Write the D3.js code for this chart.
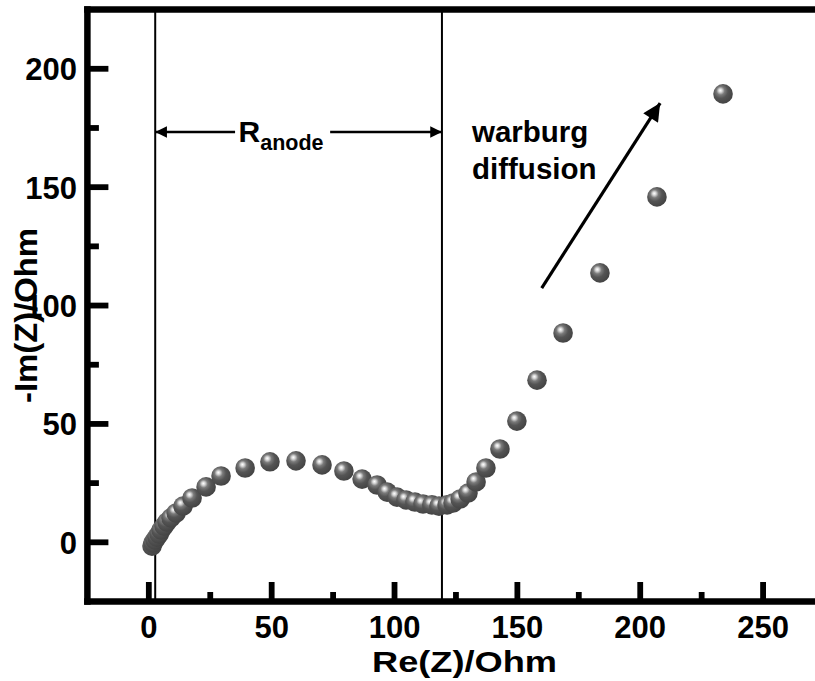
<!DOCTYPE html>
<html>
<head>
<meta charset="utf-8">
<script src="https://cdn.jsdelivr.net/npm/d3@7"></script>
<style>
  html, body { margin: 0; padding: 0; background: #fff; }
  svg { display: block; }
  text { font-family: "Liberation Sans", Arial, sans-serif; font-weight: bold; fill: #000; }
</style>
</head>
<body>
<svg id="chart" width="815" height="681"></svg>
<script>
// ---- data ----
const reZ = [1.3, 1.7, 2.5, 3.3, 4.2, 5.0, 6.2, 7.4, 9.0, 11.1, 13.9, 17.6, 23.3, 29.4,
  39.2, 49.3, 59.9, 70.5, 79.4, 86.8, 92.9, 97.0, 101.0, 104.7, 108.3, 111.6, 115.2, 118.1,
  121.4, 123.8, 126.7, 129.9, 133.2, 137.2, 142.9, 149.8, 158.0, 168.6, 183.6, 206.8, 233.7];
const imZ = [-1.6, -0.3, 1.0, 2.2, 3.5, 5.2, 6.9, 8.6, 10.3, 12.4, 15.3, 18.7, 23.4, 28.0,
  31.4, 34.0, 34.4, 32.7, 30.1, 26.7, 24.2, 21.2, 19.1, 17.9, 17.0, 16.2, 15.8, 15.3,
  15.8, 16.6, 18.3, 20.8, 25.5, 31.4, 39.4, 51.2, 68.5, 88.4, 113.8, 145.9, 189.4];
const xMajorTicks = [0, 50, 100, 150, 200, 250];
const xMinorTicks = [25, 75, 125, 175, 225];
const yMajorTicks = [0, 50, 100, 150, 200];
const yMinorTicks = [25, 75, 125, 175];
const xDomain = [-25, 275];
const yDomain = [-25, 225];
const xTitle = "Re(Z)/Ohm";
const yTitle = "-Im(Z)/Ohm";
const markerLines = [2.6, 119.3];            // vertical guide lines (Re values)
const rAnodeArrow = { x0: 2.6, x1: 119.3, y: 173.3 };
const warburgArrow = { x0: 159.9, y0: 107.4, x1: 208.1, y1: 185.5 };

// ---- layout ----
const svg = d3.select("#chart");
const pLeft = 87.4, pTop = 9.6, pRight = 824.5, pBottom = 601.5;
const x = d3.scaleLinear().domain(xDomain).range([pLeft, pRight]);
const y = d3.scaleLinear().domain(yDomain).range([pBottom, pTop]);

// gradient for sphere markers
const defs = svg.append("defs");
const grad = defs.append("radialGradient").attr("id", "sphere")
  .attr("cx", "40%").attr("cy", "38%").attr("r", "62%")
  .attr("fx", "36%").attr("fy", "32%");
[["0%", "#ffffff"], ["14%", "#d8d8d8"], ["34%", "#7a7a7a"], ["60%", "#545454"], ["100%", "#444444"]]
  .forEach(([o, c]) => grad.append("stop").attr("offset", o).attr("stop-color", c));

defs.append("marker").attr("id", "ah").attr("viewBox", "0 0 10 10")
  .attr("refX", 10).attr("refY", 5).attr("markerWidth", 7).attr("markerHeight", 4.5)
  .attr("markerUnits", "strokeWidth").attr("orient", "auto-start-reverse")
  .append("path").attr("d", "M0,0 L10,5 L0,10 Z").attr("fill", "#000");
defs.append("marker").attr("id", "ah2").attr("viewBox", "0 0 10 10")
  .attr("refX", 10).attr("refY", 5).attr("markerWidth", 8).attr("markerHeight", 5.5)
  .attr("markerUnits", "strokeWidth").attr("orient", "auto")
  .append("path").attr("d", "M0,0 L10,5 L0,10 Z").attr("fill", "#000");

// vertical guide lines
svg.selectAll("line.guide").data(markerLines).enter().append("line")
  .attr("class", "guide")
  .attr("x1", d => x(d)).attr("x2", d => x(d))
  .attr("y1", y(yDomain[1])).attr("y2", y(yDomain[0]))
  .attr("stroke", "#000").attr("stroke-width", 2);

// R_anode double arrow with gap for label
svg.append("line")
  .attr("x1", x(rAnodeArrow.x0 + 32.5)).attr("x2", x(rAnodeArrow.x0))
  .attr("y1", y(rAnodeArrow.y)).attr("y2", y(rAnodeArrow.y))
  .attr("stroke", "#000").attr("stroke-width", 2.6).attr("marker-end", "url(#ah)");
svg.append("line")
  .attr("x1", x(rAnodeArrow.x1 - 45.5)).attr("x2", x(rAnodeArrow.x1))
  .attr("y1", y(rAnodeArrow.y)).attr("y2", y(rAnodeArrow.y))
  .attr("stroke", "#000").attr("stroke-width", 2.6).attr("marker-end", "url(#ah)");
const rLabel = svg.append("text")
  .attr("x", x(rAnodeArrow.x0 + 33.9)).attr("y", y(rAnodeArrow.y) + 10)
  .style("font-size", "30px");
rLabel.append("tspan").text("R");
rLabel.append("tspan").attr("dy", 8).style("font-size", "21.5px").text("anode");

// warburg arrow and label
svg.append("line")
  .attr("x1", x(warburgArrow.x0)).attr("y1", y(warburgArrow.y0))
  .attr("x2", x(warburgArrow.x1)).attr("y2", y(warburgArrow.y1))
  .attr("stroke", "#000").attr("stroke-width", 3.2).attr("marker-end", "url(#ah2)");
svg.append("text").attr("x", 472).attr("y", 142).style("font-size", "29.5px").text("warburg");
svg.append("text").attr("x", 472).attr("y", 179).style("font-size", "29.5px").text("diffusion");

// data points
svg.selectAll("circle.pt").data(reZ.map((r, i) => [r, imZ[i]])).enter().append("circle")
  .attr("class", "pt")
  .attr("cx", d => x(d[0])).attr("cy", d => y(d[1])).attr("r", 9.8)
  .attr("fill", "url(#sphere)");

// frame (left, bottom, top)
const fw = 6.5;
svg.append("line").attr("x1", pLeft).attr("x2", pLeft).attr("y1", pTop - fw / 2).attr("y2", pBottom + fw / 2)
  .attr("stroke", "#000").attr("stroke-width", fw);
svg.append("line").attr("x1", pLeft - fw / 2).attr("x2", pRight).attr("y1", pBottom).attr("y2", pBottom)
  .attr("stroke", "#000").attr("stroke-width", fw);
svg.append("line").attr("x1", pLeft - fw / 2).attr("x2", pRight).attr("y1", pTop).attr("y2", pTop)
  .attr("stroke", "#000").attr("stroke-width", fw);

// x ticks (inward)
svg.selectAll("line.xmaj").data(xMajorTicks).enter().append("line")
  .attr("x1", d => x(d)).attr("x2", d => x(d)).attr("y1", pBottom).attr("y2", pBottom - 19.5)
  .attr("stroke", "#000").attr("stroke-width", 5.8);
svg.selectAll("line.xmin").data(xMinorTicks).enter().append("line")
  .attr("x1", d => x(d)).attr("x2", d => x(d)).attr("y1", pBottom).attr("y2", pBottom - 9.5)
  .attr("stroke", "#000").attr("stroke-width", 5.8);
svg.selectAll("text.xl").data(xMajorTicks).enter().append("text")
  .attr("x", d => x(d)).attr("y", 638).attr("text-anchor", "middle")
  .style("font-size", "31px").text(d => d);

// y ticks (inward)
svg.selectAll("line.ymaj").data(yMajorTicks).enter().append("line")
  .attr("x1", pLeft).attr("x2", pLeft + 21).attr("y1", d => y(d)).attr("y2", d => y(d))
  .attr("stroke", "#000").attr("stroke-width", 5.8);
svg.selectAll("line.ymin").data(yMinorTicks).enter().append("line")
  .attr("x1", pLeft).attr("x2", pLeft + 11.5).attr("y1", d => y(d)).attr("y2", d => y(d))
  .attr("stroke", "#000").attr("stroke-width", 5.8);
svg.selectAll("text.yl").data(yMajorTicks).enter().append("text")
  .attr("x", 77).attr("y", d => y(d) + 11.5).attr("text-anchor", "end")
  .style("font-size", "31px").text(d => d);

// axis titles
svg.append("text").attr("x", 372).attr("y", 672).style("font-size", "30px")
  .attr("textLength", 185).attr("lengthAdjust", "spacingAndGlyphs").text(xTitle);
svg.append("text").attr("transform", "translate(37,403) rotate(-90)").style("font-size", "32px")
  .attr("textLength", 175).attr("lengthAdjust", "spacingAndGlyphs").text(yTitle);
</script>
</body>
</html>
